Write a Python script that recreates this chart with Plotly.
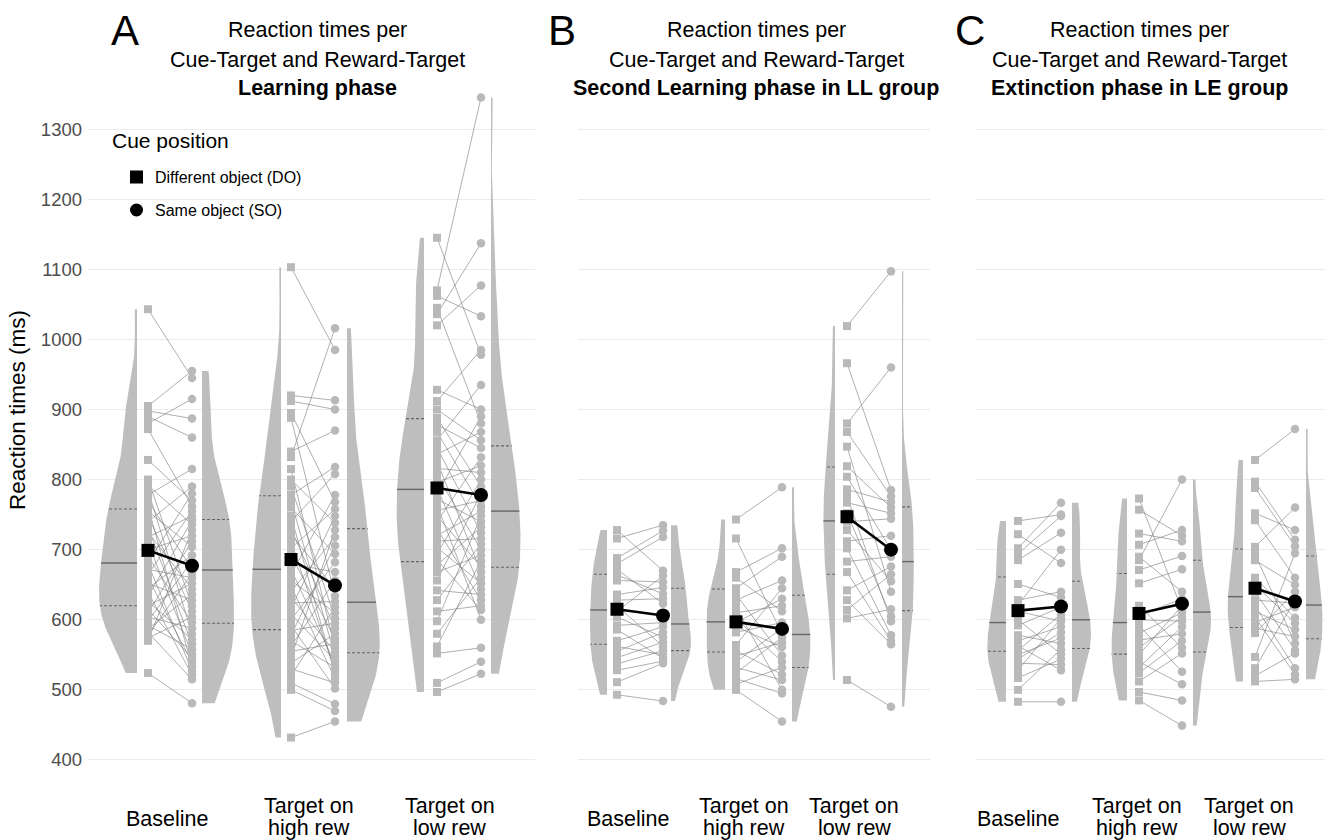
import numpy as np
import plotly.graph_objects as go

W, H = 1337, 840

# ---------------- text ----------------
CATEGORIES = ["Baseline", "Target on\nhigh rew", "Target on\nlow rew"]
LEGEND_TITLE = "Cue position"
CONDITIONS = ["Different object (DO)", "Same object (SO)"]
PANEL_LETTERS = ["A", "B", "C"]
TITLE_LINE1 = "Reaction times per"
TITLE_LINE2 = "Cue-Target and Reward-Target"
PANEL_SUBTITLES = ["Learning phase", "Second Learning phase in LL group", "Extinction phase in LE group"]
Y_TITLE = "Reaction times (ms)"
Y_TICKS = [400, 500, 600, 700, 800, 900, 1000, 1100, 1200, 1300]

# ---------------- data (ms), listed per subject: DO[i] pairs with SO[i] ----------------
# Panel A - Learning phase
A_base_DO = [1043, 905, 898, 890, 880, 872, 828, 800, 792, 785, 778, 770, 762, 755, 748, 740, 732, 725, 718, 710, 700, 690,
             682, 680, 672, 665, 660, 652, 645, 640, 633, 626, 620, 615, 610, 604, 598, 592, 587, 582, 578, 574, 570, 524]
A_base_SO = [945, 955, 887, 860, 915, 762, 770, 620, 736, 580, 815, 672, 533, 704, 612, 790, 565, 644, 748, 551, 720, 596,
             780, 527, 660, 755, 539, 628, 692, 521, 742, 572, 652, 545, 712, 588, 684, 558, 636, 515, 666, 604, 728, 481]
A_high_DO = [1103, 920, 912, 895, 888, 840, 832, 815, 800, 790, 778, 770, 760, 748, 740, 730, 722, 712, 702, 692, 680, 672,
             665, 656, 648, 640, 632, 624, 616, 608, 600, 592, 585, 578, 570, 562, 555, 546, 538, 530, 520, 510, 500, 432]
A_high_SO = [985, 913, 900, 768, 634, 870, 1016, 560, 738, 602, 818, 548, 694, 522, 808, 588, 644, 527, 758, 573, 668, 537,
             778, 610, 516, 718, 554, 626, 748, 542, 682, 502, 595, 706, 532, 656, 566, 728, 580, 510, 618, 480, 470, 455]
A_low_DO = [1145, 1070, 1062, 1045, 1036, 1020, 928, 912, 900, 888, 878, 868, 856, 846, 836, 826, 816, 806, 796, 788, 780, 772,
            764, 756, 748, 740, 730, 720, 712, 703, 694, 686, 678, 668, 656, 642, 628, 612, 598, 580, 562, 552, 510, 497]
A_low_SO = [978, 1345, 1033, 880, 1137, 1077, 900, 985, 856, 790, 845, 762, 935, 724, 868, 668, 810, 700, 820, 644, 890, 740,
            600, 770, 676, 832, 628, 755, 716, 652, 800, 614, 732, 692, 780, 636, 708, 620, 748, 660, 684, 560, 540, 523]

# Panel B - Second learning phase, LL group
B_base_DO = [728, 716, 688, 680, 672, 664, 656, 636, 628, 620, 612, 604, 592, 586, 570, 562, 555, 546, 537, 528, 511, 493]
B_base_SO = [670, 735, 727, 718, 623, 637, 654, 646, 630, 562, 663, 575, 596, 545, 590, 550, 582, 568, 556, 541, 538, 484]
B_high_DO = [743, 716, 668, 660, 645, 636, 628, 618, 610, 602, 596, 590, 582, 564, 556, 548, 540, 532, 524, 516, 508, 500]
B_high_SO = [789, 580, 702, 612, 690, 549, 656, 500, 620, 540, 630, 561, 596, 645, 522, 568, 588, 514, 575, 495, 532, 455]
B_low_DO = [1019, 966, 880, 868, 847, 819, 804, 786, 776, 767, 752, 740, 728, 712, 702, 683, 668, 642, 628, 614, 602, 514]
B_low_SO = [1097, 785, 960, 776, 640, 760, 700, 768, 598, 752, 605, 744, 655, 720, 578, 690, 570, 676, 565, 665, 615, 476]

# Panel C - Extinction phase, LE group
C_base_DO = [741, 722, 702, 694, 685, 651, 628, 621, 612, 600, 592, 578, 570, 563, 556, 550, 544, 538, 528, 517, 500, 483]
C_base_SO = [750, 681, 767, 748, 724, 632, 640, 700, 598, 551, 618, 566, 590, 528, 608, 574, 582, 536, 602, 544, 558, 483]
C_high_DO = [773, 757, 723, 707, 690, 685, 671, 652, 620, 606, 600, 592, 581, 571, 560, 550, 540, 532, 524, 512, 497, 485]
C_high_SO = [614, 720, 712, 728, 640, 800, 691, 672, 560, 630, 598, 526, 610, 580, 604, 620, 508, 590, 570, 552, 485, 449]
C_low_DO = [828, 797, 788, 752, 742, 704, 694, 685, 660, 650, 640, 628, 620, 612, 604, 596, 588, 581, 547, 531, 520, 512]
C_low_SO = [872, 714, 705, 728, 660, 760, 566, 650, 603, 595, 557, 624, 531, 586, 522, 618, 576, 640, 695, 628, 552, 515]

# group means (per category)
A_mean_DO = [699, 686, 788]
A_mean_SO = [677, 649, 778]
B_mean_DO = [615, 597, 747]
B_mean_SO = [606, 587, 700]
C_mean_DO = [613, 609, 645]
C_mean_SO = [619, 623, 626]

# violin quartiles (Q1, median, Q3) per category
A_quart_DO = [(620, 681, 758), (586, 672, 777), (683, 786, 887)]
A_quart_SO = [(595, 671, 743), (553, 625, 730), (675, 755, 848)]
B_quart_DO = [(565, 614, 665), (554, 597, 644), (665, 741, 818)]
B_quart_SO = [(556, 594, 645), (532, 579, 635), (613, 683, 761)]
C_quart_DO = [(555, 596, 661), (551, 596, 666), (589, 633, 701)]
C_quart_SO = [(559, 600, 655), (554, 611, 685), (573, 621, 691)]

PANEL_DATA = [
    dict(DO=[A_base_DO, A_high_DO, A_low_DO], SO=[A_base_SO, A_high_SO, A_low_SO],
         mDO=A_mean_DO, mSO=A_mean_SO, qDO=A_quart_DO, qSO=A_quart_SO),
    dict(DO=[B_base_DO, B_high_DO, B_low_DO], SO=[B_base_SO, B_high_SO, B_low_SO],
         mDO=B_mean_DO, mSO=B_mean_SO, qDO=B_quart_DO, qSO=B_quart_SO),
    dict(DO=[C_base_DO, C_high_DO, C_low_DO], SO=[C_base_SO, C_high_SO, C_low_SO],
         mDO=C_mean_DO, mSO=C_mean_SO, qDO=C_quart_DO, qSO=C_quart_SO),
]

# ---------------- layout (pixel positions of panel pieces) ----------------
PANEL_LAYOUT = [
    dict(x0=88, x1=535, lab=[167, 309, 450], sq=[148, 291, 437], ci=[192, 335, 481],
         vdo=[137, 281, 424], vso=[202, 347, 491], vmax=38, title_x=317, letter_x=125),
    dict(x0=578, x1=930, lab=[628, 744, 854], sq=[617, 736, 847], ci=[663, 782, 891],
         vdo=[607, 725, 835], vso=[671, 792, 902], vmax=20, title_x=756, letter_x=562),
    dict(x0=975, x1=1325, lab=[1018, 1137, 1249], sq=[1018, 1139, 1255], ci=[1061, 1182, 1295],
         vdo=[1006, 1127, 1243], vso=[1072, 1193, 1306], vmax=19, title_x=1139, letter_x=970),
]
Y_TOP_PX, Y_BOT_PX = 80, 781
Y_RANGE = [370, 1370]

FONT = "Liberation Sans, Arial, Helvetica, sans-serif"
VIOLIN_FILL = "#bebebe"
POINT_COL = "#b9b9b9"
PAIR_COL = "rgba(120,120,120,0.75)"
QUART_COL = "#666666"


def kde(vals, grid):
    v = np.asarray(vals, float)
    n = len(v)
    sd = v.std(ddof=1)
    q75, q25 = np.percentile(v, [75, 25])
    bw = 0.9 * min(sd, (q75 - q25) / 1.34) * n ** -0.2
    g = np.asarray(grid, float)
    return np.exp(-0.5 * ((g[:, None] - v[None, :]) / bw) ** 2).sum(1) / (n * bw * np.sqrt(2 * np.pi))


fig = go.Figure()
annotations = []
shapes = []

for p, (pdat, lay) in enumerate(zip(PANEL_DATA, PANEL_LAYOUT)):
    sfx = "" if p == 0 else str(p + 1)
    xa, ya = "x" + sfx, "y" + sfx

    # densities for the violins of this panel
    dens = []
    for k in range(3):
        for side in ("DO", "SO"):
            vals = pdat[side][k]
            grid = np.linspace(min(vals), max(vals), 300)
            dens.append((side, k, grid, kde(vals, grid)))
    dmax = max(d.max() for _, _, _, d in dens)
    scale = lay["vmax"] / dmax

    for side, k, grid, d in dens:
        w = d * scale
        vals = pdat[side][k]
        if side == "DO":
            edge, sgn, quarts = lay["vdo"][k], -1, pdat["qDO"][k]
        else:
            edge, sgn, quarts = lay["vso"][k], 1, pdat["qSO"][k]
        xs = np.concatenate([edge + sgn * w, [edge, edge]])
        ys = np.concatenate([grid, [grid[-1], grid[0]]])
        fig.add_trace(go.Scatter(x=xs, y=ys, mode="lines", fill="toself", fillcolor=VIOLIN_FILL,
                                 line=dict(width=0, color=VIOLIN_FILL), xaxis=xa, yaxis=ya,
                                 showlegend=False, hoverinfo="skip"))
        for qi, q in enumerate(quarts):
            wq = kde(vals, [q])[0] * scale
            fig.add_trace(go.Scatter(x=[edge, edge + sgn * wq], y=[q, q], mode="lines",
                                     line=dict(color=QUART_COL, width=1.4 if qi == 1 else 1.1,
                                               dash="solid" if qi == 1 else "3px,2px"),
                                     xaxis=xa, yaxis=ya, showlegend=False, hoverinfo="skip"))

    # paired subject lines
    for k in range(3):
        lx, ly = [], []
        for a, b in zip(pdat["DO"][k], pdat["SO"][k]):
            lx += [lay["sq"][k], lay["ci"][k], None]
            ly += [a, b, None]
        fig.add_trace(go.Scatter(x=lx, y=ly, mode="lines", line=dict(color=PAIR_COL, width=0.8),
                                 xaxis=xa, yaxis=ya, showlegend=False, hoverinfo="skip"))
    # individual points
    for k in range(3):
        fig.add_trace(go.Scatter(x=[lay["sq"][k]] * len(pdat["DO"][k]), y=pdat["DO"][k], mode="markers",
                                 marker=dict(symbol="square", size=8, color=POINT_COL),
                                 xaxis=xa, yaxis=ya, showlegend=False, name=CONDITIONS[0]))
        fig.add_trace(go.Scatter(x=[lay["ci"][k]] * len(pdat["SO"][k]), y=pdat["SO"][k], mode="markers",
                                 marker=dict(symbol="circle", size=8.5, color=POINT_COL),
                                 xaxis=xa, yaxis=ya, showlegend=False, name=CONDITIONS[1]))
    # means
    for k in range(3):
        fig.add_trace(go.Scatter(x=[lay["sq"][k], lay["ci"][k]], y=[pdat["mDO"][k], pdat["mSO"][k]],
                                 mode="lines", line=dict(color="black", width=2.6),
                                 xaxis=xa, yaxis=ya, showlegend=False, hoverinfo="skip"))
        fig.add_trace(go.Scatter(x=[lay["sq"][k]], y=[pdat["mDO"][k]], mode="markers",
                                 marker=dict(symbol="square", size=13, color="black"),
                                 xaxis=xa, yaxis=ya, showlegend=False))
        fig.add_trace(go.Scatter(x=[lay["ci"][k]], y=[pdat["mSO"][k]], mode="markers",
                                 marker=dict(symbol="circle", size=14, color="black"),
                                 xaxis=xa, yaxis=ya, showlegend=False))

    # x category labels
    for k, cat in enumerate(CATEGORIES):
        lines = cat.split("\n")
        ys = [819] if len(lines) == 1 else [806, 828]
        for txt, ypx in zip(lines, ys):
            annotations.append(dict(x=lay["lab"][k] / W, y=1 - ypx / H, xref="paper", yref="paper",
                                    text=txt, showarrow=False, xanchor="center", yanchor="middle",
                                    font=dict(family=FONT, size=21.5, color="black")))

    # titles
    for txt, ypx, bold in ((TITLE_LINE1, 30, False), (TITLE_LINE2, 60, False), (PANEL_SUBTITLES[p], 88, True)):
        annotations.append(dict(x=lay["title_x"] / W, y=1 - ypx / H, xref="paper", yref="paper",
                                text=f"<b>{txt}</b>" if bold else txt, showarrow=False,
                                xanchor="center", yanchor="middle",
                                font=dict(family=FONT, size=21.5, color="black")))
    annotations.append(dict(x=lay["letter_x"] / W, y=1 - 31 / H, xref="paper", yref="paper",
                            text=PANEL_LETTERS[p], showarrow=False, xanchor="center", yanchor="middle",
                            font=dict(family=FONT, size=42, color="black")))

    fig.update_layout(**{
        "xaxis" + sfx: dict(domain=[lay["x0"] / W, lay["x1"] / W], range=[lay["x0"], lay["x1"]],
                            showgrid=False, zeroline=False, showticklabels=False, ticks="",
                            showline=False, anchor=ya, fixedrange=True),
        "yaxis" + sfx: dict(domain=[1 - Y_BOT_PX / H, 1 - Y_TOP_PX / H], range=Y_RANGE,
                            tickvals=Y_TICKS, showgrid=True, gridcolor="#ebebeb", gridwidth=1.2,
                            zeroline=False, showline=False, ticks="", showticklabels=(p == 0),
                            ticklabelstandoff=5,
                            tickfont=dict(family=FONT, size=18.5, color="#4d4d4d"),
                            anchor=xa, fixedrange=True),
    })

# y axis title
annotations.append(dict(x=17 / W, y=1 - 410 / H, xref="paper", yref="paper", text=Y_TITLE,
                        showarrow=False, textangle=-90, xanchor="center", yanchor="middle",
                        font=dict(family=FONT, size=22.5, color="black")))

# legend (panel A, upper left)
annotations.append(dict(x=110 / W, y=1 - 141 / H, xref="paper", yref="paper", text=LEGEND_TITLE,
                        showarrow=False, xanchor="left", yanchor="middle",
                        font=dict(family=FONT, size=21, color="black")))
for i, (txt, ypx) in enumerate(zip(CONDITIONS, (177, 210))):
    annotations.append(dict(x=153 / W, y=1 - ypx / H, xref="paper", yref="paper", text=txt,
                            showarrow=False, xanchor="left", yanchor="middle",
                            font=dict(family=FONT, size=16, color="black")))
    cx, half = 136.5, 6.5
    shapes.append(dict(type="rect" if i == 0 else "circle", xref="paper", yref="paper",
                       x0=(cx - half) / W, x1=(cx + half) / W,
                       y0=1 - (ypx + half) / H, y1=1 - (ypx - half) / H,
                       fillcolor="black", line=dict(width=0)))

fig.update_layout(width=W, height=H, autosize=False, margin=dict(l=0, r=0, t=0, b=0, pad=0),
                  paper_bgcolor="white", plot_bgcolor="white", showlegend=False,
                  annotations=annotations, shapes=shapes, font=dict(family=FONT))

fig.write_html("out.html")
